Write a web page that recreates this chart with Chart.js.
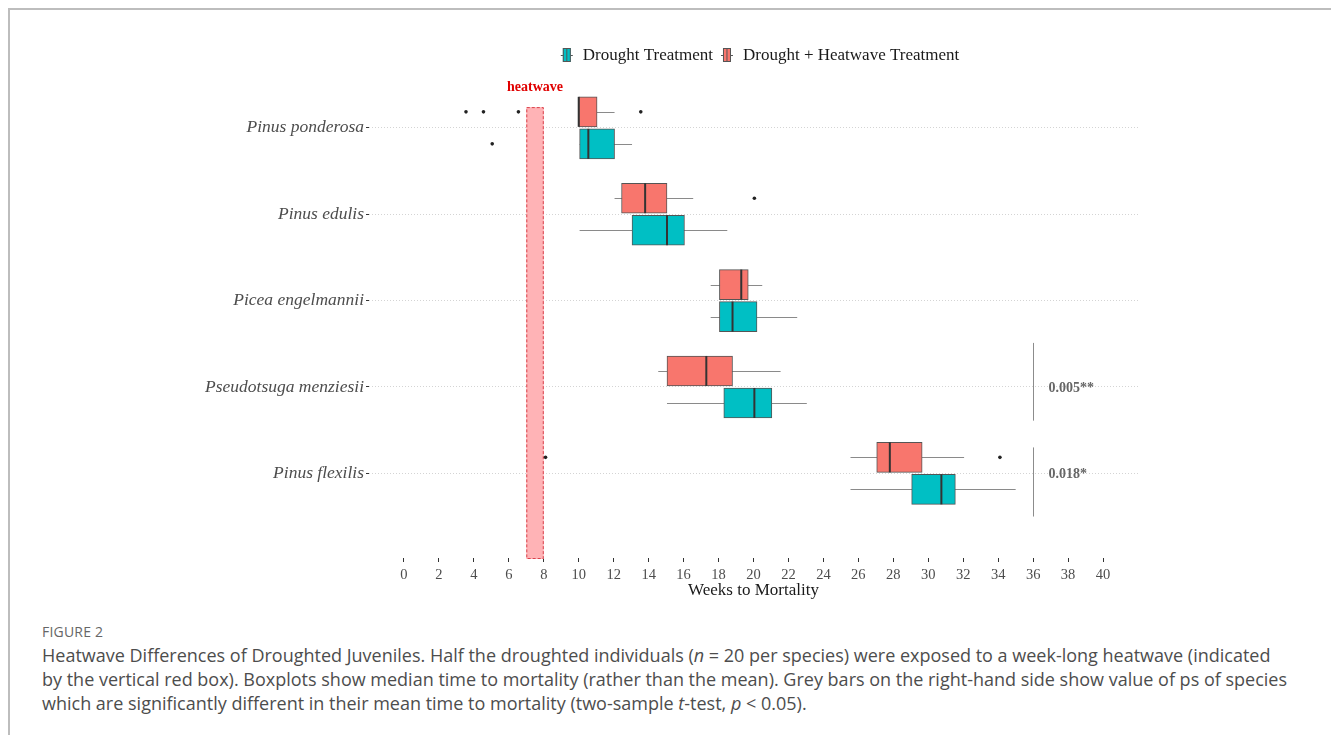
<!DOCTYPE html>
<html>
<head>
<meta charset="utf-8">
<script src="https://cdn.jsdelivr.net/npm/chart.js@4.4.1/dist/chart.umd.min.js"></script>
<style>
  html, body { margin: 0; padding: 0; background: #fff; }
  body { width: 1331px; height: 735px; position: relative; overflow: hidden; }
  .frame { position: absolute; left: 8px; top: 8px; right: -4px; bottom: -4px;
           border-top: 2px solid #bdbdbd; border-left: 2px solid #bdbdbd; }
  #chart { position: absolute; left: 0; top: 0; }
  .fig { position: absolute; left: 42px; top: 622px; font: 14px "Open Sans", sans-serif;
         color: #666; letter-spacing: 0.2px; }
  .cap { position: absolute; left: 42px; top: 643px; font: 18px/24px "Open Sans", sans-serif;
         color: #4d4d4d; white-space: nowrap; }
</style>
</head>
<body>
<div class="frame"></div>
<canvas id="chart" width="1331" height="610"></canvas>
<div class="fig">FIGURE 2</div>
<div class="cap">Heatwave Differences of Droughted Juveniles. Half the droughted individuals (<i>n</i> = 20 per species) were exposed to a week-long heatwave (indicated<br>by the vertical red box). Boxplots show median time to mortality (rather than the mean). Grey bars on the right-hand side show value of ps of species<br>which are significantly different in their mean time to mortality (two-sample <i>t</i>-test, <i>p</i> &lt; 0.05).</div>

<script>
// Species, top to bottom
const species = ['Pinus ponderosa', 'Pinus edulis', 'Picea engelmannii', 'Pseudotsuga menziesii', 'Pinus flexilis'];

// Drought + Heatwave Treatment (weeks)
const heatLow = [10.0, 12.05, 17.55, 14.55, 25.55];
const heatQ1 = [10.0, 12.45, 18.05, 15.05, 27.05];
const heatMed = [10.0, 13.8, 19.3, 17.3, 27.8];
const heatQ3 = [11.05, 15.05, 19.7, 18.8, 29.65];
const heatHigh = [12.05, 16.55, 20.5, 21.55, 32.05];
const heatOut = [[3.55, 4.55, 6.55, 13.55], [20.05], [], [], [8.1, 34.1]];

// Drought Treatment (weeks)
const drLow = [10.05, 10.05, 17.55, 15.05, 25.55];
const drQ1 = [10.05, 13.05, 18.05, 18.3, 29.05];
const drMed = [10.55, 15.05, 18.8, 20.05, 30.75];
const drQ3 = [12.05, 16.05, 20.2, 21.05, 31.55];
const drHigh = [13.05, 18.5, 22.5, 23.05, 35.0];
const drOut = [[5.05], [], [], [], []];

const xTicks = [0, 2, 4, 6, 8, 10, 12, 14, 16, 18, 20, 22, 24, 26, 28, 30, 32, 34, 36, 38, 40];

// heatwave week and significance annotations
const heatwaveWeeks = [7, 8];
const heatwaveTop = -0.24;
const sigRows = [3, 4];
const sigFrom = [-0.51, -0.30];
const sigTo = [0.39, 0.50];
const sigText = ['0.005**', '0.018*'];
const sigWeek = 36;

const RED = '#F8766D', TEAL = '#00BFC4';
const serif = '"Liberation Serif", "Times New Roman", serif';

const groups = [
  { low: heatLow, med: heatMed, high: heatHigh, out: heatOut },
  { low: drLow, med: drMed, high: drHigh, out: drOut }
];

const extras = {
  id: 'extras',
  beforeDatasetsDraw(chart) {
    const { ctx, chartArea, scales: { x, y } } = chart;
    ctx.save();
    // heatwave box
    const hx0 = x.getPixelForValue(heatwaveWeeks[0]);
    const hx1 = x.getPixelForValue(heatwaveWeeks[1]);
    const hy0 = y.getPixelForValue(heatwaveTop);
    const hy1 = chartArea.bottom + 1;
    ctx.fillStyle = '#FFB3B6';
    ctx.fillRect(hx0, hy0, hx1 - hx0, hy1 - hy0);
    ctx.setLineDash([3, 2]);
    ctx.strokeStyle = '#D9434C';
    ctx.lineWidth = 1;
    ctx.strokeRect(hx0 + 0.5, hy0 + 0.5, hx1 - hx0 - 1, hy1 - hy0 - 1);
    ctx.setLineDash([]);

    // whiskers
    ctx.strokeStyle = '#8a8a8a';
    ctx.lineWidth = 1.2;
    groups.forEach((g, di) => {
      chart.getDatasetMeta(di).data.forEach((bar, i) => {
        ctx.beginPath();
        ctx.moveTo(x.getPixelForValue(g.low[i]), Math.round(bar.y) + 0.5);
        ctx.lineTo(x.getPixelForValue(g.high[i]), Math.round(bar.y) + 0.5);
        ctx.stroke();
      });
    });
    ctx.restore();
  },
  afterDatasetsDraw(chart) {
    const { ctx, scales: { x, y } } = chart;
    ctx.save();
    // medians and outliers
    groups.forEach((g, di) => {
      chart.getDatasetMeta(di).data.forEach((bar, i) => {
        const mx = x.getPixelForValue(g.med[i]);
        ctx.strokeStyle = '#333';
        ctx.lineWidth = 2;
        ctx.beginPath();
        ctx.moveTo(mx, bar.y - bar.height / 2);
        ctx.lineTo(mx, bar.y + bar.height / 2);
        ctx.stroke();
        ctx.fillStyle = '#222';
        g.out[i].forEach(v => {
          ctx.beginPath();
          ctx.arc(x.getPixelForValue(v), bar.y, 1.8, 0, Math.PI * 2);
          ctx.fill();
        });
      });
    });

    // significance bars
    const sx = Math.round(x.getPixelForValue(sigWeek)) + 0.5;
    sigRows.forEach((r, k) => {
      ctx.strokeStyle = '#8c8c8c';
      ctx.lineWidth = 1;
      ctx.beginPath();
      ctx.moveTo(sx, y.getPixelForValue(r + sigFrom[k]));
      ctx.lineTo(sx, y.getPixelForValue(r + sigTo[k]));
      ctx.stroke();
      ctx.fillStyle = '#666';
      ctx.font = 'bold 14px ' + serif;
      ctx.textAlign = 'left';
      ctx.textBaseline = 'middle';
      ctx.fillText(sigText[k], sx + 15, y.getPixelForValue(r) + 1);
    });

    // heatwave label
    ctx.fillStyle = '#E00000';
    ctx.font = 'bold 14px ' + serif;
    ctx.textAlign = 'center';
    ctx.textBaseline = 'middle';
    ctx.fillText('heatwave', (x.getPixelForValue(heatwaveWeeks[0]) + x.getPixelForValue(heatwaveWeeks[1])) / 2, 87);

    // legend
    const items = [
      { label: 'Drought Treatment', color: TEAL },
      { label: 'Drought + Heatwave Treatment', color: RED }
    ];
    ctx.font = '17px ' + serif;
    const iconW = 12, gapIcon = 10, gapItem = 8;
    let total = 0;
    items.forEach((it, k) => { total += iconW + gapIcon + ctx.measureText(it.label).width + (k ? 0 : gapItem); });
    let lx = 760 - total / 2;
    const ly = 55;
    items.forEach(it => {
      const cx = lx + iconW / 2;
      ctx.strokeStyle = '#555';
      ctx.lineWidth = 1;
      ctx.beginPath();
      ctx.moveTo(lx, ly + 0.5); ctx.lineTo(lx + iconW, ly + 0.5);
      ctx.stroke();
      ctx.fillStyle = it.color;
      ctx.fillRect(cx - 4, ly - 7, 8, 14);
      ctx.strokeRect(cx - 3.5, ly - 6.5, 7, 13);
      ctx.beginPath();
      ctx.moveTo(cx, ly - 7); ctx.lineTo(cx, ly + 7);
      ctx.stroke();
      lx += iconW + gapIcon;
      ctx.fillStyle = '#1a1a1a';
      ctx.textAlign = 'left';
      ctx.fillText(it.label, lx, ly + 1);
      lx += ctx.measureText(it.label).width + gapItem;
    });
    ctx.restore();
  }
};

new Chart(document.getElementById('chart'), {
  type: 'bar',
  data: {
    datasets: [
      {
        label: 'Drought + Heatwave Treatment',
        data: species.map((s, i) => ({ x: [heatQ1[i], heatQ3[i]], y: i })),
        backgroundColor: RED,
        borderColor: '#555',
        borderWidth: 1,
        borderSkipped: false,
        barThickness: 32,
        maxBarThickness: 30
      },
      {
        label: 'Drought Treatment',
        data: species.map((s, i) => ({ x: [drQ1[i], drQ3[i]], y: i })),
        backgroundColor: TEAL,
        borderColor: '#555',
        borderWidth: 1,
        borderSkipped: false,
        barThickness: 32,
        maxBarThickness: 30
      }
    ]
  },
  options: {
    indexAxis: 'y',
    responsive: false,
    animation: false,
    events: [],
    layout: { padding: { top: 76, right: 193, bottom: 0, left: 0 } },
    plugins: { legend: { display: false }, tooltip: { enabled: false } },
    scales: {
      x: {
        type: 'linear',
        min: -2,
        max: 42,
        afterBuildTicks: s => { s.ticks = xTicks.map(v => ({ value: v })); },
        afterFit: s => { s.height = 52; },
        grid: { drawOnChartArea: false, drawTicks: true, tickLength: 4, tickColor: '#333', tickWidth: 1 },
        border: { display: false },
        ticks: { color: '#4d4d4d', font: { family: serif, size: 14.5 }, padding: 4, maxRotation: 0, autoSkip: false },
        title: { display: true, text: 'Weeks to Mortality', color: '#1a1a1a',
                 font: { family: serif, size: 17 }, padding: { top: 0, bottom: 9 } }
      },
      y: {
        type: 'linear',
        reverse: true,
        offset: false,
        min: -0.6,
        max: 4.98,
        afterBuildTicks: s => { s.ticks = species.map((n, i) => ({ value: i })); },
        afterFit: s => { s.width = 369; },
        grid: { offset: false, color: '#d4d4d4', lineWidth: 1, drawTicks: true, tickLength: 3, tickColor: '#333',
                tickBorderDash: [] },
        border: { display: false, dash: [1, 2] },
        ticks: { color: '#4d4d4d', font: { family: serif, size: 17.5, style: 'italic' }, padding: 2,
                 autoSkip: false, callback: v => species[v] }
      }
    }
  },
  plugins: [extras]
});
</script>
</body>
</html>
